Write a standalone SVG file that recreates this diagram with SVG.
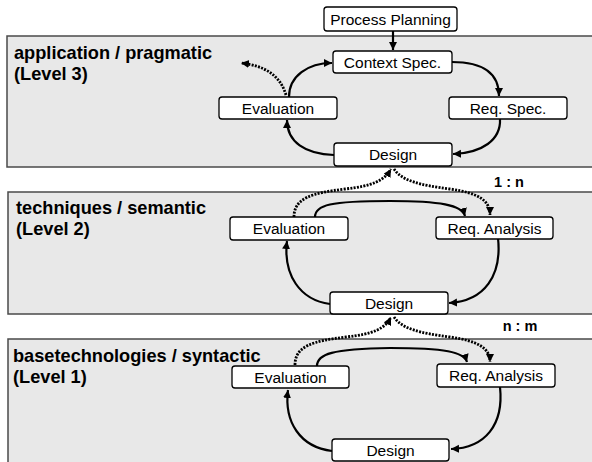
<svg xmlns="http://www.w3.org/2000/svg" width="592" height="462" viewBox="0 0 592 462">
<style>
.panel{fill:#e8e8e8;stroke:#4a4a4a;stroke-width:1.5}
.node rect{fill:#fff;stroke:#000;stroke-width:1.3}
.node text{font-family:"Liberation Sans",Arial,sans-serif;font-size:15.5px;text-anchor:middle;fill:#000}
.title{font-family:"Liberation Sans",Arial,sans-serif;font-size:18.2px;font-weight:bold;fill:#000}
.ratio{font-family:"Liberation Sans",Arial,sans-serif;font-size:14.5px;font-weight:bold;fill:#000;text-anchor:middle}
.solid{fill:none;stroke:#000;stroke-width:2.2;marker-end:url(#ah)}
.dot{fill:none;stroke:#000;stroke-width:2.8;stroke-dasharray:2 1.3;marker-end:url(#ah)}
</style>
<defs>
<marker id="ah" markerUnits="userSpaceOnUse" markerWidth="10" markerHeight="10" refX="8" refY="4" orient="auto">
<path d="M0,0 L8,4 L0,8 z" fill="#000"/>
</marker>
</defs>
<rect width="592" height="462" fill="#fff"/>
<g id="panels">
<rect class="panel" x="7" y="36" width="600" height="131"/>
<rect class="panel" x="8" y="192" width="600" height="122"/>
<rect class="panel" x="8" y="339" width="600" height="140"/>
<text class="title" x="14" y="59">application / pragmatic</text>
<text class="title" x="14" y="80">(Level 3)</text>
<text class="title" x="16" y="214">techniques / semantic</text>
<text class="title" x="16" y="235">(Level 2)</text>
<text class="title" x="13" y="362">basetechnologies / syntactic</text>
<text class="title" x="13" y="383">(Level 1)</text>
<text class="ratio" x="509" y="187">1 : n</text>
<text class="ratio" x="520" y="331">n : m</text>
</g>
<g id="connectors">
<path class="solid" d="M393,31 L393,50"/>
<path class="solid" d="M452,62 C485,62 499,75 499,96"/>
<path class="solid" d="M500,119 C501,140 482,153 453,154"/>
<path class="solid" d="M334,155 C305,154 287,142 287,120"/>
<path class="solid" d="M289,97 C289,76 308,63 332,63"/>
<path class="dot" d="M286,95 C280,75 265,66 241,63"/>
<path class="solid" d="M315,217 C315,205 330,201 390,201 C440,201 462,205 465,216"/>
<path class="solid" d="M498,238 C502,275 485,301 449,303"/>
<path class="solid" d="M330,304 C300,300 283,275 287,241"/>
<path class="dot" d="M294,217 C294,198 312,193 345,189 C372,186 384,181 391,169"/>
<path class="dot" d="M394,169 C402,181 420,185 450,189 C478,193 490,200 490,215"/>
<path class="solid" d="M317,366 C317,354 332,349 390,348 C445,348 464,352 467,362"/>
<path class="solid" d="M500,387 C504,425 485,448 451,449"/>
<path class="solid" d="M332,451 C300,447 284,422 288,390"/>
<path class="dot" d="M295,365 C295,346 313,341 346,337 C373,334 385,329 391,317"/>
<path class="dot" d="M394,317 C402,329 420,333 450,337 C478,341 490,348 490,362"/>
</g>
<g id="process-planning" class="node"><rect x="324" y="7" width="133" height="24" rx="3"/><text x="390.5" y="24.5">Process Planning</text></g>
<g id="context-spec" class="node"><rect x="333" y="51" width="119" height="22" rx="3"/><text x="392.5" y="67.5">Context Spec.</text></g>
<g id="req-spec" class="node"><rect x="449" y="97" width="118" height="22" rx="3"/><text x="508" y="113.5">Req. Spec.</text></g>
<g id="design-3" class="node"><rect x="334" y="143" width="118" height="23" rx="3"/><text x="393" y="160">Design</text></g>
<g id="evaluation-3" class="node"><rect x="219" y="97" width="118" height="22" rx="3"/><text x="278" y="113.5">Evaluation</text></g>
<g id="evaluation-2" class="node"><rect x="230" y="217" width="118" height="23" rx="3"/><text x="289" y="234">Evaluation</text></g>
<g id="req-analysis-2" class="node"><rect x="436" y="217" width="117" height="22" rx="3"/><text x="494.5" y="233.5">Req. Analysis</text></g>
<g id="design-2" class="node"><rect x="330" y="292" width="118" height="22" rx="3"/><text x="389" y="308.5">Design</text></g>
<g id="evaluation-1" class="node"><rect x="232" y="366" width="117" height="22" rx="3"/><text x="290.5" y="382.5">Evaluation</text></g>
<g id="req-analysis-1" class="node"><rect x="437" y="364" width="118" height="23" rx="3"/><text x="496" y="381">Req. Analysis</text></g>
<g id="design-1" class="node"><rect x="332" y="439" width="117" height="22" rx="3"/><text x="390.5" y="455.5">Design</text></g>
</svg>
